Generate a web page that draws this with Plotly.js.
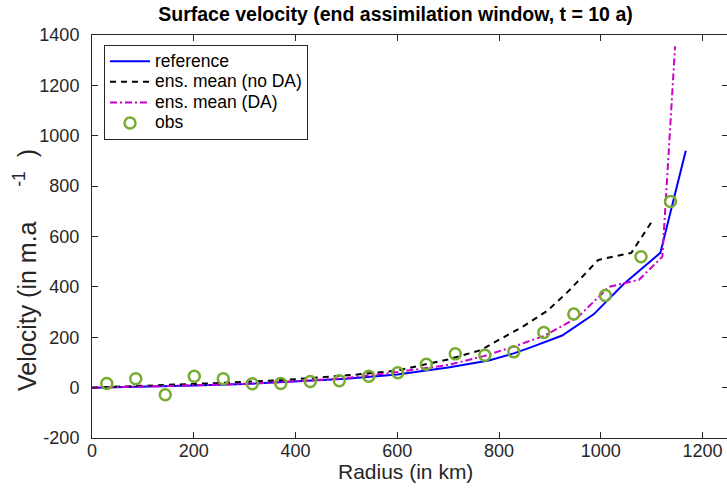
<!DOCTYPE html>
<html>
<head>
<meta charset="utf-8">
<script src="https://cdn.plot.ly/plotly-3.0.1.min.js"></script>
<style>
html,body{margin:0;padding:0;overflow:hidden;background:#fff;}
#chart{width:730px;height:493px;}
</style>
</head>
<body>
<div id="chart"></div>
<script>
// Reference (blue solid)
const refX = [0, 100, 200, 300, 400, 500, 600, 700, 780, 829, 865, 924, 986, 1045, 1117, 1167];
const refY = [0, 3, 8, 14, 23, 35, 52, 80, 108, 136, 162, 207, 291, 411, 535, 940];
// Ensemble mean without DA (black dashed)
const noDaX = [0, 127, 258, 390, 521, 600, 652, 700, 763, 803, 849, 895, 937, 995, 1060, 1102];
const noDaY = [0, 9, 19, 32, 52, 68, 90, 112, 148, 192, 245, 305, 384, 507, 535, 665];
// Ensemble mean with DA (magenta dash-dot)
const daX = [0, 100, 200, 300, 400, 500, 586, 700, 770, 829, 888, 954, 1016, 1075, 1121, 1146];
const daY = [0, 3, 9, 15, 25, 38, 58, 90, 125, 163, 205, 278, 400, 428, 520, 1355];
// Observations (green circles)
const obsX = [29, 86, 144, 201, 258, 315, 371, 429, 486, 544, 601, 657, 714, 772, 829, 888, 947, 1009, 1079, 1137];
const obsY = [16, 35, -28, 45, 35, 15, 16, 24, 27, 45, 59, 93, 134, 129, 142, 219, 292, 366, 520, 739];

const seriesNames = ['reference', 'ens. mean (no DA)', 'ens. mean (DA)', 'obs'];
const xTicks = [0, 200, 400, 600, 800, 1000, 1200];
const yTicks = [-200, 0, 200, 400, 600, 800, 1000, 1200, 1400];

const FONT = 'Liberation Sans, Arial, Helvetica, sans-serif';
const AX = '#262626';
const lg = n => '<span style="font-size:17.5px">' + n + '</span>';
const sp = n => '\u00a0'.repeat(n);

const traces = [
  {x: refX, y: refY, name: lg(seriesNames[0]), mode: 'lines', type: 'scatter',
   line: {color: '#0000ff', width: 2}},
  {x: noDaX, y: noDaY, name: lg(seriesNames[1]), mode: 'lines', type: 'scatter',
   line: {color: '#000000', width: 2, dash: '6px,5px'}},
  {x: daX, y: daY, name: lg(seriesNames[2]), mode: 'lines', type: 'scatter',
   line: {color: '#cc00cc', width: 2, dash: '7px,3px,2px,3px'}},
  {x: obsX, y: obsY, name: lg(seriesNames[3]), mode: 'markers', type: 'scatter',
   marker: {symbol: 'circle-open', size: 11, color: '#77ac30', line: {width: 2.5, color: '#77ac30'}}}
];

const axisCommon = {
  showgrid: false, zeroline: false, showline: true, linecolor: AX, linewidth: 1,
  mirror: 'ticks', ticks: 'inside', ticklen: 6, tickcolor: AX, tickwidth: 1,
  tickfont: {family: FONT, size: 18, color: AX}
};

const layout = {
  width: 730, height: 493,
  margin: {l: 92, r: 2, t: 35, b: 55},
  paper_bgcolor: '#ffffff', plot_bgcolor: '#ffffff',
  showlegend: true,
  title: {text: '<b>Surface velocity (end assimilation window, t = 10 a)</b>',
          font: {family: FONT, size: 19.5, color: '#000'},
          xref: 'container', yref: 'container', x: 395.5/730, xanchor: 'center',
          y: 1 - 14/493, yanchor: 'middle'},
  xaxis: Object.assign({}, axisCommon, {range: [0, 1250], tickvals: xTicks,
          ticktext: xTicks.map(String), ticklabelstandoff: -4}),
  yaxis: Object.assign({}, axisCommon, {range: [-200, 1400], tickvals: yTicks,
          ticktext: yTicks.map(String), ticklabelstandoff: 8}),
  legend: {x: (104-92)/636, y: (438-45)/403, xanchor: 'left', yanchor: 'top',
           bgcolor: '#ffffff', bordercolor: '#262626', borderwidth: 1, itemwidth: 40,
           font: {family: FONT, size: 13.5, color: '#000'}, tracegroupgap: 0},
  annotations: [
    {text: 'Velocity (in m.a' + sp(5) + '<sup>-1</sup>' + sp(2) + ')', textangle: -90, showarrow: false,
     xref: 'paper', yref: 'paper', x: (25-92)/636, y: (438-270)/403,
     xanchor: 'center', yanchor: 'middle',
     font: {family: FONT, size: 25, color: AX}},
    {text: 'Radius (in km)', showarrow: false,
     xref: 'paper', yref: 'paper', x: (405-92)/636, y: (438-471)/403,
     xanchor: 'center', yanchor: 'middle',
     font: {family: FONT, size: 21, color: AX}}
  ]
};

Plotly.newPlot('chart', traces, layout, {displayModeBar: false, staticPlot: true});
</script>
</body>
</html>
